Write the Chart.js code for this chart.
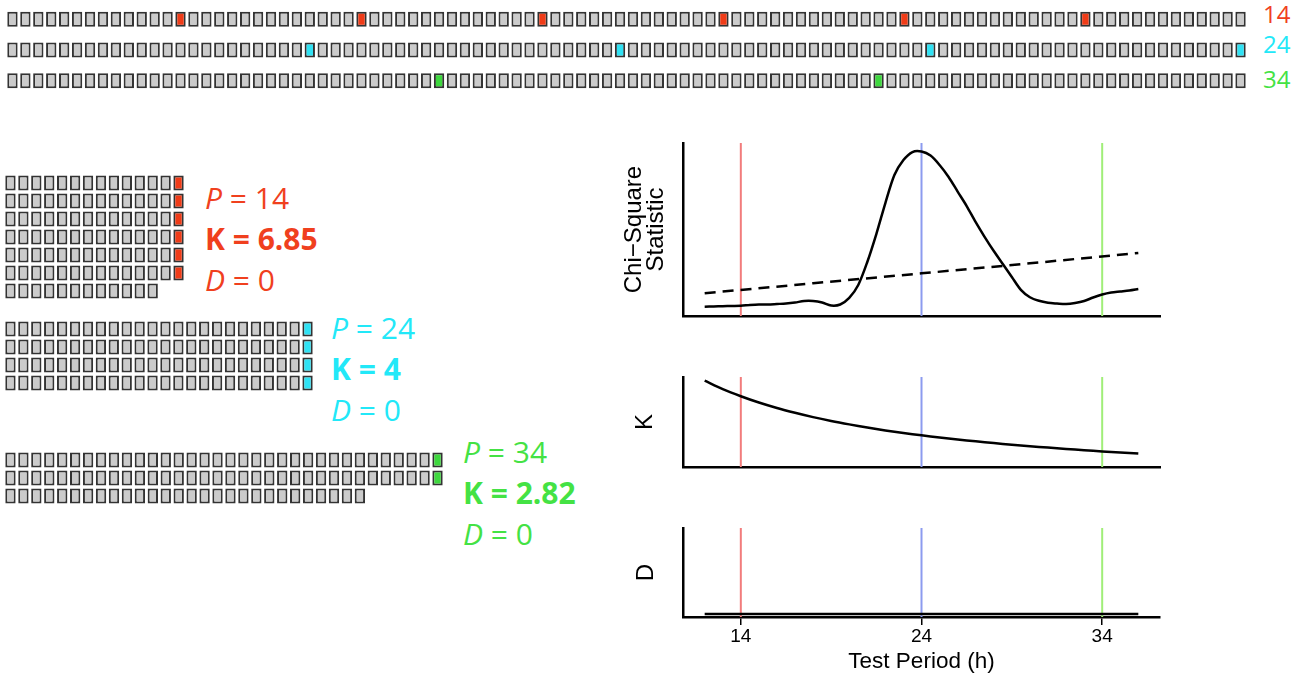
<!DOCTYPE html>
<html>
<head>
<meta charset="utf-8">
<script src="https://cdn.jsdelivr.net/npm/chart.js@4.4.1/dist/chart.umd.min.js"></script>
<style>
  body { margin: 0; background: #fff; }
  #figure { position: relative; width: 1309px; height: 676px; overflow: hidden; font-family: 'Open Sans', sans-serif; }
  #figure canvas { position: absolute; }
  .stat { position: absolute; font-size: 30px; line-height: 41px; white-space: nowrap; }
  .stat b { font-weight: 700; }
  .rowLabel { position: absolute; left: 1263px; font-size: 24px; line-height: 32px; }
</style>
</head>
<body>
<div id="figure"></div>
<script>
// ---- data ----
const nObs = 96;                       // hourly observations in the series
const periods = [14, 24, 34];          // the three test periods shown
const kShown = [6.85, 4, 2.82];
const dShown = [0, 0, 0];

const chiPeriods = [12, 12.5, 13, 13.5, 14, 14.5, 15, 15.5, 16, 16.5, 17, 17.5, 18, 18.5, 19, 19.5,
  20, 20.5, 21, 21.5, 22, 22.5, 23, 23.5, 24, 24.5, 25, 25.5, 26, 26.5, 27, 27.5, 28, 28.5,
  29, 29.5, 30, 30.5, 31, 31.5, 32, 32.5, 33, 33.5, 34, 34.5, 35, 35.5, 36];
const chiStat = [13.8, 14.0, 14.2, 14.4, 14.6, 15.2, 15.6, 15.6, 16.0, 16.4, 17.2, 18.4, 18.4, 17.2, 14.8, 15.6,
  20.9, 31.4, 50.0, 72.6, 97.7, 120.4, 132.5, 139.0, 139.4, 136.1, 128.5, 118.8, 107.0, 95.3, 82.3, 70.2, 58.9, 48.4,
  37.9, 27.5, 21.5, 18.6, 17.0, 16.4, 16.0, 16.8, 18.4, 21.3, 23.7, 25.3, 26.1, 26.9, 28.1];
const threshPeriods = [12, 18, 24, 30, 36];
const threshStat = [24.7, 32.8, 40.8, 48.9, 57.3];

const kPeriods = [12, 13, 14, 15, 16, 17, 18, 19, 20, 21, 22, 23, 24, 25, 26, 27, 28, 29, 30, 31, 32, 33, 34, 35, 36];
const kCurve = [8.00, 7.38, 6.86, 6.40, 6.00, 5.65, 5.33, 5.05, 4.80, 4.57, 4.36, 4.17, 4.00, 3.84, 3.69, 3.56,
  3.43, 3.31, 3.20, 3.10, 3.00, 2.91, 2.82, 2.74, 2.67];
const dPeriods = [12, 24, 36];
const dCurve = [0, 0, 0];
const periodTicks = [14, 24, 34];

// ---- styles ----
const cellColours = ['#f03c18', '#2fe2f4', '#3ed83e'];
const textColours = ['#f0401e', '#22e8f8', '#44e244'];
const lineColours = ['#f27c7c', '#8c9bef', '#a0ee78'];
const cellGray = '#cbcbcb';
const cellEdge = '#333333';
const fig = document.getElementById('figure');

function makeCanvas(left, top, width, height) {
    const c = document.createElement('canvas');
    c.width = width;
    c.height = height;
    c.style.left = left + 'px';
    c.style.top = top + 'px';
    c.style.width = width + 'px';
    c.style.height = height + 'px';
    fig.appendChild(c);
    return c.getContext('2d');
}

// grid of little cells, one floating bar per cell
function cellChart(ctx, nCols, rows) {
    return new Chart(ctx, {
        type: 'bar',
        data: {
            labels: [...Array(nCols).keys()],
            datasets: rows.map(r => ({
                data: r.spans,
                backgroundColor: r.fills,
                borderColor: cellEdge,
                borderWidth: 2,
                borderSkipped: false,
                grouped: false,
                barPercentage: 0.8,
                categoryPercentage: 1
            }))
        },
        options: {
            responsive: false,
            animation: false,
            events: [],
            layout: { padding: 0 },
            plugins: { legend: { display: false }, tooltip: { enabled: false } },
            scales: {
                x: { display: false },
                y: { display: false, reverse: true, min: -0.5, max: rows.length - 0.5 }
            }
        }
    });
}

// top strip: the whole series once per period
const stripRows = periods.map((p, r) => ({
    spans: [...Array(nObs).keys()].map(() => [r - 0.245, r + 0.245]),
    fills: [...Array(nObs).keys()].map(i => ((i + 1) % p === 0 ? cellColours[r] : cellGray))
}));
cellChart(makeCanvas(6, 4, 1241, 92), nObs, stripRows);

const labelTops = [-2, 28, 63];
periods.forEach((p, k) => {
    const d = document.createElement('div');
    d.className = 'rowLabel';
    d.style.top = labelTops[k] + 'px';
    d.style.color = textColours[k];
    d.textContent = p;
    fig.appendChild(d);
});

// folded blocks, one row per cycle
const blockTops = [174, 320, 451];
const statPos = [[205, 177], [331, 307], [463, 431]];
const colPitch = 1241 / nObs;
periods.forEach((p, k) => {
    const nRows = Math.ceil(nObs / p);
    const rows = [];
    for (let r = 0; r < nRows; r++) {
        const spans = [], fills = [];
        for (let c = 0; c < p; c++) {
            spans.push(r * p + c < nObs ? [r - 0.41, r + 0.41] : null);
            fills.push(c === p - 1 ? cellColours[k] : cellGray);
        }
        rows.push({ spans, fills });
    }
    cellChart(makeCanvas(4, blockTops[k], Math.round(p * colPitch), nRows * 18), p, rows);

    const s = document.createElement('div');
    s.className = 'stat';
    s.style.left = statPos[k][0] + 'px';
    s.style.top = statPos[k][1] + 'px';
    s.style.color = textColours[k];
    s.innerHTML = '<div><i>P</i> = ' + p + '</div><div><b>K = ' + kShown[k] + '</b></div><div><i>D</i> = ' + dShown[k] + '</div>';
    fig.appendChild(s);
});

// ---- the three periodogram panels ----
const xMin = 10.8, xMax = 37.2;
const axisFont = 'Liberation Sans, Arial, sans-serif';

function curve(xs, ys, extra) {
    return Object.assign({
        data: xs.map((x, i) => ({ x: x, y: ys[i] })),
        showLine: true, borderColor: '#000', borderWidth: 2.5, pointRadius: 0, tension: 0.3
    }, extra || {});
}

function periodLines(yMin, yMax) {
    return periods.map((p, k) => ({
        data: [{ x: p, y: yMin }, { x: p, y: yMax }],
        showLine: true, borderColor: lineColours[k], borderWidth: 2, pointRadius: 0
    }));
}

function panel(ctx, datasets, yMin, yMax, yTitle, titlePad, xAxis) {
    return new Chart(ctx, {
        type: 'scatter',
        data: { datasets: datasets.concat(periodLines(yMin, yMax)) },
        options: {
            responsive: false,
            animation: false,
            events: [],
            layout: { padding: { top: 10, right: 10, left: 0, bottom: 0 } },
            plugins: { legend: { display: false }, tooltip: { enabled: false } },
            scales: {
                x: xAxis || {
                    type: 'linear', min: xMin, max: xMax,
                    ticks: { display: false }, grid: { display: false },
                    border: { color: '#000', width: 2.5 },
                    afterFit: s => { s.height = 7; }
                },
                y: {
                    min: yMin, max: yMax,
                    ticks: { display: false }, grid: { display: false },
                    border: { color: '#000', width: 2.5 },
                    title: {
                        display: true, text: yTitle, color: '#000',
                        font: { family: axisFont, size: 24, lineHeight: 0.95 },
                        padding: { top: titlePad, bottom: 0 }
                    },
                    afterFit: s => { s.width = 83; }
                }
            }
        }
    });
}

panel(makeCanvas(600, 133, 570, 190), [
    curve(chiPeriods, chiStat),
    curve(threshPeriods, threshStat, { borderDash: [11, 7], tension: 0 })
], 6.3, 146.3, ['Chi\u2212Square', 'Statistic'], 22.6);

panel(makeCanvas(600, 367, 570, 107), [curve(kPeriods, kCurve)], 1.68, 8.27, 'K', 34);

panel(makeCanvas(600, 518, 570, 158), [curve(dPeriods, dCurve, { tension: 0 })], -0.035, 1, 'D', 35, {
    type: 'linear', min: xMin, max: xMax,
    afterBuildTicks: s => { s.ticks = periodTicks.map(v => ({ value: v })); },
    ticks: { color: '#000', font: { family: axisFont, size: 19 }, padding: 0, maxRotation: 0, autoSkip: false },
    grid: { display: true, drawOnChartArea: false, drawTicks: true, tickLength: 8, color: '#000', lineWidth: 1.5 },
    border: { color: '#000', width: 2.5 },
    title: {
        display: true, text: 'Test Period (h)', color: '#000',
        font: { family: axisFont, size: 22.5 }, padding: { top: 0, bottom: 1 }
    },
    afterFit: s => { s.height = 59; }
});
</script>
</body>
</html>
